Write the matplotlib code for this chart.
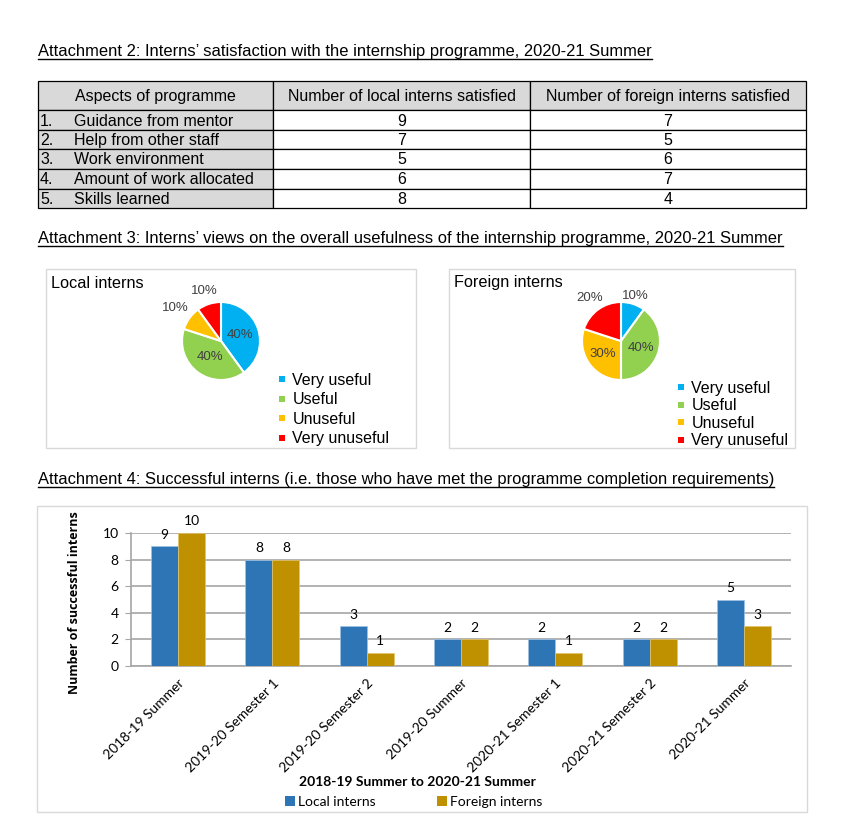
import numpy as np
import matplotlib
matplotlib.use('Agg')
import matplotlib.pyplot as plt
from matplotlib.patches import Rectangle
from matplotlib.lines import Line2D

W, H = 858, 818

# Attachment 2 data
table_header = ['Aspects of programme', 'Number of local interns satisfied',
                'Number of foreign interns satisfied']
aspects = ['Guidance from mentor', 'Help from other staff', 'Work environment',
           'Amount of work allocated', 'Skills learned']
local_satisfied = [9, 7, 5, 6, 8]
foreign_satisfied = [7, 5, 6, 7, 4]

# Attachment 3 data
usefulness = ['Very useful', 'Useful', 'Unuseful', 'Very unuseful']
local_views = [40, 40, 10, 10]
foreign_views = [10, 40, 30, 20]

# Attachment 4 data
periods = ['2018-19 Summer', '2019-20 Semester 1', '2019-20 Semester 2',
           '2019-20 Summer', '2020-21 Semester 1', '2020-21 Semester 2',
           '2020-21 Summer']
local_success = [9, 8, 3, 2, 2, 2, 5]
foreign_success = [10, 8, 1, 2, 1, 2, 3]

titles = ['Attachment 2: Interns\u2019 satisfaction with the internship programme, 2020-21 Summer',
          'Attachment 3: Interns\u2019 views on the overall usefulness of the internship programme, 2020-21 Summer',
          'Attachment 4: Successful interns (i.e. those who have met the programme completion requirements)']

plt.rcParams['font.family'] = ['Liberation Sans', 'DejaVu Sans']
pie_colors = ['#00B0F0', '#92D050', '#FFC000', '#FF0000']
local_color = '#2E75B6'
foreign_color = '#BF9000'
grid_gray = '#A6A6A6'
chart_font = ['Lato', 'DejaVu Sans']

fig = plt.figure(figsize=(W / 100, H / 100), dpi=100)


def px_axes(x0, y0, x1, y1):
    return fig.add_axes([x0 / W, 1 - y1 / H, (x1 - x0) / W, (y1 - y0) / H])


bg = fig.add_axes([0, 0, 1, 1])
bg.set_xlim(0, W)
bg.set_ylim(H, 0)
bg.axis('off')

# section titles (underlined below)
title_y = [56, 243, 484]
title_texts = [bg.text(38, y, t, fontsize=11.9, va='baseline')
               for t, y in zip(titles, title_y)]

# ---- table ----
col_x = [38, 273, 530, 806]
row_y = [81, 110, 130, 149, 169, 189, 208]
rows = [[f'{i + 1}.', a, str(l), str(f)]
        for i, (a, l, f) in enumerate(zip(aspects, local_satisfied, foreign_satisfied))]
for c in range(3):
    bg.add_patch(Rectangle((col_x[c], row_y[0]), col_x[c + 1] - col_x[c],
                           row_y[1] - row_y[0], facecolor='#D9D9D9',
                           edgecolor='black', lw=0.9))
    bg.text((col_x[c] + col_x[c + 1]) / 2, (row_y[0] + row_y[1]) / 2 + 1,
            table_header[c], fontsize=11.5, ha='center', va='center')
for r, row in enumerate(rows):
    y0, y1 = row_y[r + 1], row_y[r + 2]
    ym = (y0 + y1) / 2 + 1
    for c in range(3):
        bg.add_patch(Rectangle((col_x[c], y0), col_x[c + 1] - col_x[c], y1 - y0,
                               facecolor='#D9D9D9' if c == 0 else 'white',
                               edgecolor='black', lw=0.9))
    bg.text(col_x[0] + 2, ym, row[0], fontsize=11.5, va='center')
    bg.text(col_x[0] + 36, ym, row[1], fontsize=11.5, va='center')
    bg.text((col_x[1] + col_x[2]) / 2, ym, row[2], fontsize=11.5, ha='center', va='center')
    bg.text((col_x[2] + col_x[3]) / 2, ym, row[3], fontsize=11.5, ha='center', va='center')

# ---- boxes ----
box_gray = '#D9D9D9'
bg.add_patch(Rectangle((46, 269), 370, 179, fill=False, edgecolor=box_gray, lw=1))
bg.add_patch(Rectangle((449, 269), 346, 179, fill=False, edgecolor=box_gray, lw=1))
bg.add_patch(Rectangle((37, 506), 770, 306, fill=False, edgecolor=box_gray, lw=1))

# ---- pies ----
pie_specs = [
    ('Local interns', local_views, (221, 341), (51, 283), [0.5, 0.5, 1.45, 1.35], (278, 373), 0.28),
    ('Foreign interns', foreign_views, (621, 341), (454, 283), [1.22, 0.55, 0.57, 1.35], (677, 381), 0.15),
]
r_px = 39
for name, vals, (cx, cy), (tx, ty), dists, (lx, ly), spacing in pie_specs:
    ax = px_axes(cx - 1.5 * r_px, cy - 1.5 * r_px, cx + 1.5 * r_px, cy + 1.5 * r_px)
    wedges, _ = ax.pie(vals, colors=pie_colors, startangle=90, counterclock=False,
                       wedgeprops=dict(edgecolor='white', linewidth=1.5))
    for w, v, d in zip(wedges, vals, dists):
        ang = np.deg2rad((w.theta1 + w.theta2) / 2)
        ax.text(d * np.cos(ang), d * np.sin(ang), f'{v}%', fontsize=9.5,
                color='#404040', ha='center', va='center')
    ax.set_xlim(-1.5, 1.5)
    ax.set_ylim(-1.5, 1.5)
    ax.set_aspect('equal')
    ax.axis('off')
    bg.text(tx, ty, name, fontsize=11.7, va='center')
    handles = [Line2D([], [], ls='', marker='s', markersize=4.5, color=c,
                      markeredgewidth=0) for c in pie_colors]
    ax.legend(handles, usefulness, loc='upper left', bbox_to_anchor=(lx, ly),
              bbox_transform=bg.transData, frameon=False, fontsize=11.5,
              handlelength=0.5, handletextpad=0.4, borderpad=0, borderaxespad=0,
              labelspacing=spacing)

# ---- bar chart ----
ax = px_axes(131, 533, 791, 666)
x = np.arange(len(periods))
bw = 0.286
b1 = ax.bar(x - bw / 2, local_success, bw, color=local_color, edgecolor='#9DC3E6', lw=0.5, zorder=3)
b2 = ax.bar(x + bw / 2, foreign_success, bw, color=foreign_color, edgecolor='#E2C36A', lw=0.5, zorder=3)
for bars in (b1, b2):
    ax.bar_label(bars, padding=4, fontsize=10, family=chart_font)
ax.set_xlim(-0.5, len(periods) - 0.5)
ax.set_ylim(0, 10)
ax.set_yticks(range(0, 11, 2))
ax.grid(axis='y', color=grid_gray, lw=1.2, zorder=0)
ax.set_axisbelow(True)
ax.patch.set_alpha(0)
for s in ('top', 'right'):
    ax.spines[s].set_visible(False)
for s in ('left', 'bottom'):
    ax.spines[s].set_color(grid_gray)
    ax.spines[s].set_linewidth(1.2)
ax.tick_params(axis='y', length=4, color=grid_gray, labelsize=10, pad=5)
ax.tick_params(axis='x', length=0, labelsize=10, pad=8)
ax.set_xticks(x)
ax.set_xticklabels(periods, rotation=45, ha='right', rotation_mode='anchor')
for lab in ax.get_xticklabels() + ax.get_yticklabels():
    lab.set_family(chart_font)
ax.set_ylabel('Number of successful interns', fontsize=9, fontweight='bold',
              family=['Open Sans', 'DejaVu Sans'], va='center')
ax.yaxis.set_label_coords(-0.085, 0.48)
ax.set_xlabel('2018-19 Summer to 2020-21 Summer', fontsize=10, fontweight='bold',
              family=chart_font, va='center')
ax.xaxis.set_label_coords((417 - 131) / 660, (666 - 782) / 133)
bar_handles = [Line2D([], [], ls='', marker='s', markersize=6.5, color=c, markeredgewidth=0)
               for c in (local_color, foreign_color)]
ax.legend(bar_handles, ['Local interns', 'Foreign interns'], loc='center left',
          bbox_to_anchor=(286, 802), bbox_transform=bg.transData, frameon=False,
          ncol=2, prop=dict(family=chart_font, size=10), handlelength=0.6,
          handletextpad=0.25, columnspacing=4.5, borderpad=0, borderaxespad=0)

# underline the section titles
fig.canvas.draw()
for t, y in zip(title_texts, title_y):
    bb = t.get_window_extent()
    bg.plot([bb.x0, bb.x1], [y + 3, y + 3], color='black', lw=1)

fig.savefig('out.png', dpi=100, facecolor='white')
